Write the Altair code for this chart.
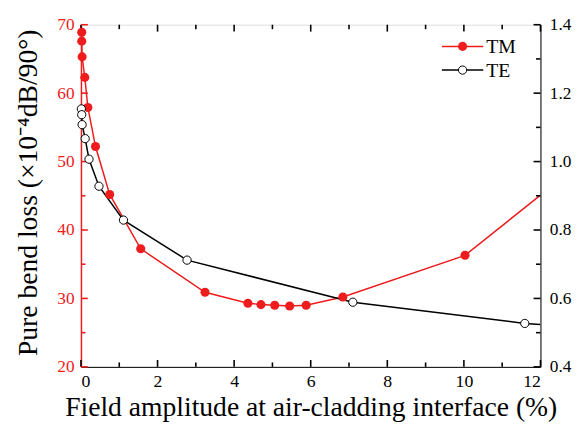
import altair as alt
import pandas as pd

# ---- data ----
tm_x = [0.02, 0.02, 0.03, 0.10, 0.18, 0.38, 0.75, 1.56, 3.24, 4.36, 4.70, 5.06, 5.45, 5.88, 6.84, 10.03]
tm_y = [68.9, 67.6, 65.3, 62.3, 57.9, 52.2, 45.2, 37.25, 30.9, 29.3, 29.1, 29.0, 28.9, 29.0, 30.2, 36.3]
tm_end_x = [12.0]
tm_end_y = [45.1]

te_x = [0.01, 0.02, 0.03, 0.11, 0.21, 0.47, 1.11, 2.77, 7.10, 11.59]
te_y = [1.154, 1.137, 1.108, 1.067, 1.007, 0.928, 0.829, 0.712, 0.589, 0.527]
te_end_x = [12.0]
te_end_y = [0.524]

series = ["TM", "TE"]
x_major = [0, 2, 4, 6, 8, 10, 12]
x_minor = [1, 3, 5, 7, 9, 11]
yl_major = [20, 30, 40, 50, 60, 70]
yl_minor = [25, 35, 45, 55, 65]
yr_major = [0.4, 0.6, 0.8, 1.0, 1.2, 1.4]
yr_minor = [0.5, 0.7, 0.9, 1.1, 1.3]

W, H = 466, 347
RED = "#EE1C1C"
FONT = "Liberation Serif"
MAJ, MIN = 7, 4.5

tm_pts = pd.DataFrame({"x": tm_x, "y": tm_y})
tm_line = pd.DataFrame({"x": tm_x + tm_end_x, "y": tm_y + tm_end_y})
te_pts = pd.DataFrame({"x": te_x, "y": te_y})
te_line = pd.DataFrame({"x": te_x + te_end_x, "y": te_y + te_end_y})

xscale = alt.Scale(domain=[0, 12], nice=False, zero=False)
ylscale = alt.Scale(domain=[20, 70], nice=False, zero=False)
yrscale = alt.Scale(domain=[0.4, 1.4], nice=False, zero=False)

x_axis = alt.Axis(values=x_major, ticks=False, grid=False, labelFont=FONT, labelFontSize=18,
                  labelColor="black", labelPadding=6, domainColor="black",
                  title="Field amplitude at air-cladding interface (%)", titleFont=FONT,
                  titleFontSize=28, titleFontWeight="normal", titleColor="black",
                  titleY=49, titleBaseline="alphabetic")
yl_axis = alt.Axis(orient="left", values=yl_major, ticks=False, grid=False, labelFont=FONT,
                   labelFontSize=17.5, labelColor=RED, labelPadding=7, domainColor=RED,
                   domainWidth=1.5,
                   title="Pure bend loss (×10⁻⁴dB/90°)", titleFont=FONT, titleFontSize=28,
                   titleFontWeight="normal", titleColor="black",
                   titleX=-45, titleY=170, titleAngle=270, titleAlign="center",
                   titleBaseline="alphabetic")
yr_axis = alt.Axis(orient="right", values=yr_major, ticks=False, grid=False, labelFont=FONT,
                   labelFontSize=17.5, labelColor="black", labelPadding=9, domainColor="black",
                   format=".1f", title=None)

X = alt.X("x:Q", scale=xscale, axis=x_axis)

# ---- lines with their axes ----
tm_l = alt.Chart(tm_line).mark_line(color=RED, strokeWidth=1.5, clip=True).encode(
    x=X, y=alt.Y("y:Q", scale=ylscale, axis=yl_axis))
te_l = alt.Chart(te_line).mark_line(color="black", strokeWidth=1.5, clip=True).encode(
    x=X, y=alt.Y("y:Q", scale=yrscale, axis=yr_axis))

# ---- markers ----
tm_p = alt.Chart(tm_pts).mark_point(filled=True, color=RED, size=85, opacity=1).encode(
    x=X, y=alt.Y("y:Q", scale=ylscale, axis=None))
te_p = alt.Chart(te_pts).mark_point(filled=True, fill="white", stroke="black", strokeWidth=1,
                                    size=70, opacity=1).encode(
    x=X, y=alt.Y("y:Q", scale=yrscale, axis=None))

# ---- inward ticks ----
def xticks(vals, length):
    d = pd.DataFrame({"x": vals})
    bot = alt.Chart(d).mark_tick(color="black", thickness=1.6, size=length, opacity=1).encode(
        x=X, y=alt.value(H - length / 2))
    top = alt.Chart(d).mark_tick(color="black", thickness=1.6, size=length, opacity=1).encode(
        x=X, y=alt.value(length / 2))
    return [bot, top]

def yticks(vals, length, scale, col, xpos):
    d = pd.DataFrame({"y": vals})
    return alt.Chart(d).mark_tick(color=col, thickness=1.6, size=length, opacity=1).encode(
        y=alt.Y("y:Q", scale=scale, axis=None), x=alt.value(xpos))

ticks = (xticks(x_major, MAJ) + xticks(x_minor, MIN) + [
    yticks(yl_major, MAJ, ylscale, RED, MAJ / 2),
    yticks(yl_minor, MIN, ylscale, RED, MIN / 2),
    yticks(yr_major, MAJ, yrscale, "black", W - MAJ / 2),
    yticks(yr_minor, MIN, yrscale, "black", W - MIN / 2),
])

# ---- legend (manual) ----
leg = []
for i, (name, col, filled) in enumerate(zip(series, [RED, "black"], [True, False])):
    yy = 22 + 24 * i
    d = pd.DataFrame({"name": [name]})
    leg.append(alt.Chart(d).mark_rule(color=col, strokeWidth=1.5).encode(
        x=alt.value(366), x2=alt.value(408), y=alt.value(yy)))
    if filled:
        leg.append(alt.Chart(d).mark_point(filled=True, color=col, size=85, opacity=1).encode(
            x=alt.value(387), y=alt.value(yy)))
    else:
        leg.append(alt.Chart(d).mark_point(filled=True, fill="white", stroke=col, strokeWidth=1,
                                            size=70, opacity=1).encode(
            x=alt.value(387), y=alt.value(yy)))
    leg.append(alt.Chart(d).mark_text(align="left", baseline="middle", font=FONT, fontSize=20,
                                      color="black").encode(
        x=alt.value(411), y=alt.value(yy + 1), text="name:N"))

chart = alt.layer(tm_l, te_l, *ticks, tm_p, te_p, *leg).resolve_scale(
    y="independent").properties(
    width=W, height=H,
    autosize=alt.AutoSizeParams(type="none"),
    padding={"left": 74, "top": 14, "right": 34, "bottom": 56},
).configure_view(stroke="black", strokeWidth=1.2).configure(background="white")

chart.save("out.html", embed_options={"renderer": "svg", "actions": False})
